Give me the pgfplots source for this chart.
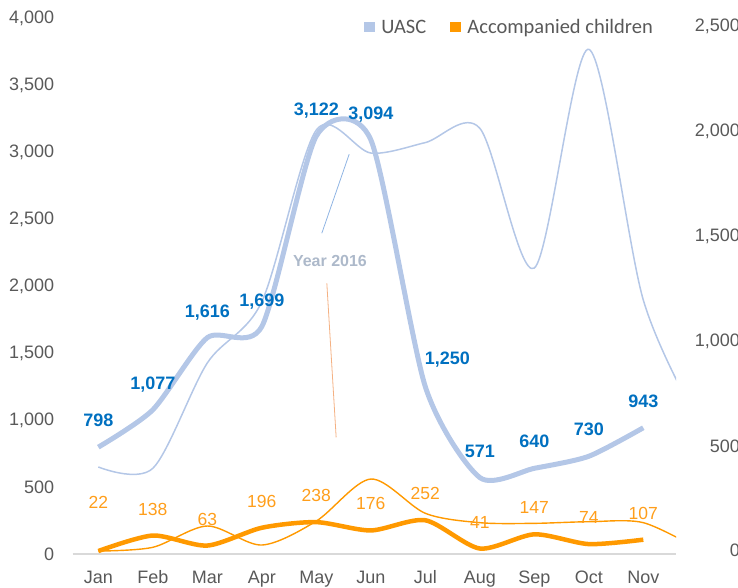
\documentclass[border=0pt]{standalone}
\usepackage{pgfplots}
\pgfplotsset{compat=1.18}
\usepackage{pgfplotstable}
\usepackage{fontspec}
\setmainfont{Liberation Sans}
\newfontfamily\legfont{Carlito}
\definecolor{uasc}{HTML}{B4C7E7}
\definecolor{acc}{HTML}{FF9900}
\definecolor{acclab}{HTML}{FF9E1B}
\definecolor{lab}{HTML}{0070C0}
\definecolor{tickc}{HTML}{595959}
\definecolor{axl}{HTML}{D9D9D9}
\definecolor{yr}{HTML}{ADB9CA}
\definecolor{callb}{HTML}{8FB4E3}
\definecolor{callo}{HTML}{F4B183}

% UASC 2017 (thick)
\pgfplotstableread{
x y lbl
0 798 798
1 1077 1,077
2 1616 1,616
3 1699 1,699
4 3122 3,122
5 3094 3,094
6 1250 {}
7 571 571
8 640 640
9 730 730
10 943 943
}\uascB
% Accompanied children 2017 (thick)
\pgfplotstableread{
x y lbl
0 22 {}
1 138 138
2 63 63
3 196 196
4 238 238
5 176 176
6 252 252
7 41 41
8 147 147
9 74 74
10 107 107
}\accB
% UASC 2016 (thin)
\pgfplotstableread{
x y
0 650
1 640
2 1427
3 1885
4 3167
5 2995
6 3073
7 3180
8 2136
9 3770
10 1897
11 1000
}\uascA
% Accompanied children 2016 (thin)
\pgfplotstableread{
x y
0 22
1 50
2 209
3 67
4 246
5 560
6 304
7 234
8 229
9 241
10 234
11 40
}\accA

\begin{document}
\begin{tikzpicture}
\begin{axis}[
  at={(0,0)}, anchor=south west, scale only axis,
  width=603.3pt, height=535.5pt,
  xmin=-0.47, xmax=10.6, ymin=0, ymax=4000,
  xtick={0,...,10},
  xticklabels={Jan,Feb,Mar,Apr,May,Jun,Jul,Aug,Sep,Oct,Nov},
  ytick={0,500,...,4000},
  major tick length=0pt,
  axis x line*=bottom, axis y line*=left,
  x axis line style={draw=axl, line width=1.3pt, -},
  y axis line style={draw=none},
  tick label style={font=\fontsize{18}{20}\selectfont, text=tickc, inner sep=0pt},
  xticklabel style={anchor=base, yshift=-29.3pt},
  yticklabel style={anchor=east, xshift=-18.3pt},
  /pgf/number format/assume math mode=true,
  /pgf/number format/1000 sep={,},
  bluelab/.style={nodes near coords, point meta=explicit symbolic,
    every node near coord/.append style={font=\bfseries\fontsize{18}{20}\selectfont, text=lab, anchor=base, inner sep=0pt, yshift=20.5pt}},
  orlab/.style={nodes near coords, point meta=explicit symbolic,
    every node near coord/.append style={font=\fontsize{17.5}{20}\selectfont, text=acclab, anchor=base, inner sep=0pt, yshift=20.5pt}},
  legend cell align=left,
  legend columns=-1,
  legend style={at={(0.4828,0.9804)}, anchor=west, draw=none, fill=none,
    inner sep=0pt, outer sep=0pt, column sep=0pt,
    font=\legfont\fontsize{20.5}{22}\selectfont,
    nodes={inner sep=0pt, text=tickc, text height=14pt, text depth=4pt}},
]
% 2016 thin lines
\addplot[uasc, line width=1.5pt, smooth, tension=0.5, no markers, forget plot] table[x=x,y=y]{\uascA};
\addplot[acc, line width=1.4pt, smooth, tension=0.5, no markers, forget plot] table[x=x,y=y]{\accA};
% 2017 thick lines
\addplot[uasc, line width=5pt, smooth, tension=0.42, no markers, bluelab,
  legend image code/.code={\fill[uasc, draw=none] (0pt,-3.3pt) rectangle (10.6pt,7.3pt); \path[draw=none, fill=none] (0pt,0pt) -- (17.3pt,0pt);}]
  table[x=x,y=y,meta=lbl]{\uascB};
\addlegendentry{UASC\hspace*{24.3pt}}
\addplot[acc, line width=4.5pt, smooth, tension=0.45, no markers, orlab,
  legend image code/.code={\fill[acc, draw=none] (0pt,-3.3pt) rectangle (10.6pt,7.3pt); \path[draw=none, fill=none] (0pt,0pt) -- (17pt,0pt);}]
  table[x=x,y=y,meta=lbl]{\accB};
\addlegendentry{Accompanied children}
% labels moved off their default place
\addplot[draw=none, no markers, forget plot, bluelab,
  every node near coord/.append style={xshift=22pt, yshift=2pt}]
  coordinates {(6,1250) [1,250]};
\addplot[draw=none, no markers, forget plot, orlab,
  every node near coord/.append style={yshift=22pt}]
  coordinates {(0,22) [22]};
% callout
\draw[callb, line width=0.8pt] (axis cs:4.101,2396) -- (axis cs:4.603,2986);
\draw[callo, line width=0.8pt] (axis cs:4.193,2022) -- (axis cs:4.364,872);
\node[font=\bfseries\fontsize{16}{18}\selectfont, text=yr] at (axis cs:4.25,2190) {Year 2016};
\end{axis}
\begin{axis}[
  at={(0,0)}, anchor=south west, scale only axis,
  width=603.3pt, height=535.5pt,
  xmin=-0.47, xmax=10.6, ymin=-15.3, ymax=2539,
  hide x axis,
  axis y line*=right,
  y axis line style={draw=none},
  ytick={0,500,...,2500},
  major tick length=0pt,
  tick label style={font=\fontsize{18}{20}\selectfont, text=tickc, inner sep=0pt},
  yticklabel style={anchor=east, xshift=64pt},
  /pgf/number format/assume math mode=true,
  /pgf/number format/1000 sep={,},
]
\addplot[draw=none, no markers] coordinates {(0,0)};
\end{axis}
\pgfresetboundingbox
\path[use as bounding box] (-72.7pt,-34pt) rectangle (665.3pt,554pt);
\end{tikzpicture}
\end{document}
